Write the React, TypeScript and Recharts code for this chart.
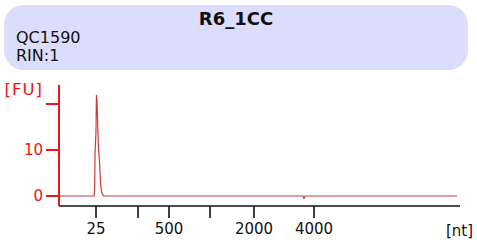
import React from "react";
import { LineChart, Line, XAxis, YAxis } from "recharts";

// electropherogram trace: migration time [s] vs fluorescence [FU]
const TIMES = [
  20, 24.4, 24.46, 24.5, 24.56, 24.62, 24.68, 24.74, 24.8, 24.86, 24.93, 25.0, 25.08, 25.16,
  25.24, 25.34, 25.46, 25.58, 50.5, 50.625, 50.75, 69.75,
];
const FU = [0, 0, 2, 9, 11.5, 14, 22, 21, 18, 14, 10.5, 9, 7, 4, 2, 0.8, 0.3, 0, 0, -0.5, 0, 0];

// ladder positions on the time axis and their size labels
const LADDER_TIMES = [24.625, 29.875, 33.75, 38.875, 44.375, 51.875];
const LADDER_LABELS = ["25", "", "500", "", "2000", "4000"];

const FU_TICKS = [0, 10, 20];
const FU_LABELS = ["0", "10", ""];

const SAMPLE = "R6_1CC";
const INFO = ["QC1590", "RIN:1"];

const C_AXIS_RED = "#ee1414";
const C_TRACE = "#cf3b3b";
const FONT = "'DejaVu Sans', Verdana, sans-serif";

const data = TIMES.map((t, i) => ({ t, fu: FU[i] }));

export default function App() {
  return (
    <div style={{ position: "absolute", left: 0, top: 0, width: 477, height: 245, fontFamily: FONT }}>
      <div
        style={{
          position: "absolute",
          left: 4,
          top: 5,
          width: 464,
          height: 65,
          borderRadius: 20,
          background: "#dcdcfb",
        }}
      >
        <div
          style={{
            position: "absolute",
            left: 0,
            right: 0,
            top: 4,
            textAlign: "center",
            fontWeight: "bold",
            fontSize: 18,
            lineHeight: "20px",
            color: "#111",
          }}
        >
          {SAMPLE}
        </div>
        {INFO.map((s, i) => (
          <div
            key={s}
            style={{
              position: "absolute",
              left: 12,
              top: 24 + i * 18,
              fontSize: 16,
              lineHeight: "18px",
              color: "#111",
            }}
          >
            {s}
          </div>
        ))}
      </div>
      <div style={{ position: "absolute", left: 0, top: 0 }}>
        <LineChart width={477} height={245} data={data} margin={{ top: 85, right: 17, bottom: 0, left: 0 }}>
          <XAxis
            dataKey="t"
            type="number"
            domain={[20, 70.125]}
            ticks={LADDER_TIMES}
            tickFormatter={(v: number) => LADDER_LABELS[LADDER_TIMES.indexOf(v)] ?? ""}
            height={39}
            tickSize={12}
            tickMargin={5}
            interval={0}
            stroke="#111"
            strokeWidth={1.6}
            tick={{ fill: "#111", fontSize: 15, fontFamily: FONT }}
            label={{
              content: ({ viewBox }: any) => (
                <text
                  x={viewBox.x + viewBox.width + 13}
                  y={236}
                  textAnchor="end"
                  fill="#111"
                  fontSize={15}
                  fontFamily={FONT}
                >
                  [nt]
                </text>
              ),
            }}
          />
          <YAxis
            type="number"
            domain={[-2.17, 24.13]}
            ticks={FU_TICKS}
            tickFormatter={(v: number) => FU_LABELS[FU_TICKS.indexOf(v)] ?? ""}
            width={59}
            tickSize={13}
            tickMargin={3}
            interval={0}
            stroke={C_AXIS_RED}
            strokeWidth={2}
            tick={{ fill: C_AXIS_RED, fontSize: 15, fontFamily: FONT }}
            label={{
              content: () => (
                <text
                  x={43}
                  y={95}
                  textAnchor="end"
                  fill={C_AXIS_RED}
                  fontSize={16.5}
                  letterSpacing={1}
                  fontFamily={FONT}
                >
                  [FU]
                </text>
              ),
            }}
          />
          <Line
            dataKey="fu"
            type="linear"
            stroke={C_TRACE}
            strokeWidth={1.2}
            dot={false}
            isAnimationActive={false}
          />
        </LineChart>
      </div>
    </div>
  );
}
